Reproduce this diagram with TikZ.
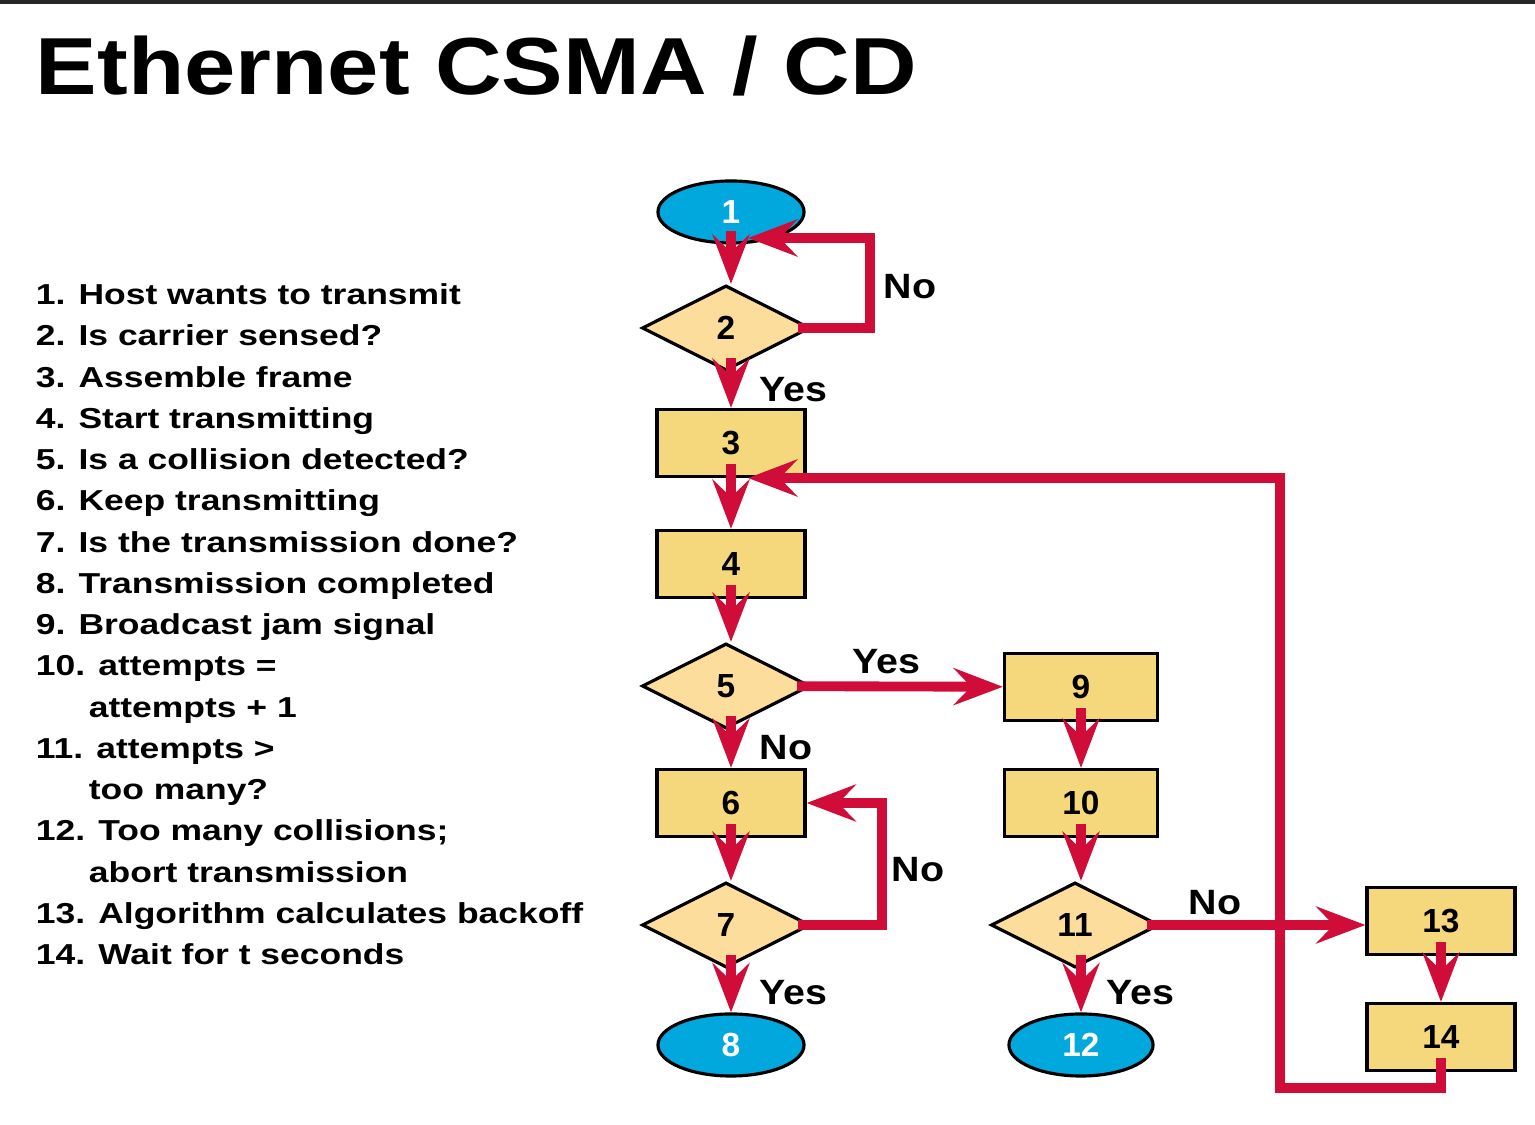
\documentclass[tikz,border=0pt]{standalone}
\usepackage{fontspec}
\setmainfont{Liberation Sans}
\usetikzlibrary{shapes.geometric}
\usetikzlibrary{arrows.meta}
\usetikzlibrary{calc}
\definecolor{csred}{RGB}{208,12,56}
\definecolor{csblue}{RGB}{0,168,222}
\definecolor{csdiam}{RGB}{253,221,156}
\definecolor{csbox}{RGB}{246,216,124}

\tikzset{
  procbox/.style={rectangle, draw=black, line width=0.9pt, fill=csbox, minimum width=1.48cm, minimum height=0.67cm, inner sep=0pt, font=\bfseries\fontsize{9.5}{10}\selectfont},
  decision/.style={diamond, draw=black, line width=0.9pt, fill=csdiam, minimum width=1.68cm, minimum height=0.85cm, inner sep=0pt, font=\bfseries\fontsize{9.5}{10}\selectfont},
  terminal/.style={ellipse, draw=black, line width=0.9pt, fill=csblue, minimum width=1.46cm, minimum height=0.62cm, inner sep=0pt, text=white, font=\bfseries\fontsize{9.5}{10}\selectfont},
  flow/.style={draw=csred, line width=2.8pt, shorten <=-4pt, -{Stealth[length=14pt,width=10.5pt,inset=5pt]}},
  answer/.style={font=\bfseries\fontsize{10}{10}\selectfont, xscale=1.12},
  legend/.style={anchor=base west, inner sep=0pt, font=\bfseries\fontsize{8.2}{9}\selectfont, xscale=1.23}
}

\begin{document}
\begin{tikzpicture}[x=0.01cm, y=-0.01cm]
  \useasboundingbox (0,0) rectangle (1535,1125);

  % top rule and title
  \fill[black!85] (0,0) rectangle (1535,4);
  \node[anchor=base west, inner sep=0pt, font=\bfseries\fontsize{23}{23}\selectfont, xscale=1.14] (title) at (35,95) {Ethernet CSMA / CD};

  % legend
  \node[legend] (l1)  at (35,305) {1. Host wants to transmit};
  \node[legend] (l2)  at (35,346) {2. Is carrier sensed?};
  \node[legend] (l3)  at (35,388) {3. Assemble frame};
  \node[legend] (l4)  at (35,429) {4. Start transmitting};
  \node[legend] (l5)  at (35,470) {5. Is a collision detected?};
  \node[legend] (l6)  at (35,511) {6. Keep transmitting};
  \node[legend] (l7)  at (35,553) {7. Is the transmission done?};
  \node[legend] (l8)  at (35,594) {8. Transmission completed};
  \node[legend] (l9)  at (35,635) {9. Broadcast jam signal};
  \node[legend] (l10) at (35,676) {10. attempts =};
  \node[legend] (l10b) at (88,718) {attempts + 1};
  \node[legend] (l11) at (35,759) {11. attempts >};
  \node[legend] (l11b) at (88,800) {too many?};
  \node[legend] (l12) at (35,841) {12. Too many collisions;};
  \node[legend] (l12b) at (88,883) {abort transmission};
  \node[legend] (l13) at (35,924) {13. Algorithm calculates backoff};
  \node[legend] (l14) at (35,965) {14. Wait for t seconds};

  % main column
  \node[terminal] (n1) at (731,212) {1};
  \node[decision] (n2) at (726,328) {2};
  \node[procbox]  (n3) at (731,443) {3};
  \node[procbox]  (n4) at (731,564) {4};
  \node[decision] (n5) at (726,686) {5};
  \node[procbox]  (n6) at (731,803) {6};
  \node[decision] (n7) at (726,925) {7};
  \node[terminal] (n8) at (731,1045) {8};

  % collision column
  \node[procbox, minimum width=1.53cm] (n9)  at (1081,687) {9};
  \node[procbox, minimum width=1.53cm] (n10) at (1081,803) {10};
  \node[decision, minimum width=1.68cm] (n11) at (1075,925) {11};
  \node[terminal, minimum width=1.44cm] (n12) at (1081,1045) {12};

  % backoff column
  \node[procbox] (n13) at (1441,921) {13};
  \node[procbox] (n14) at (1441,1037) {14};

  % loop corners
  \coordinate (n1in)   at (748,238);
  \coordinate (c2loop) at (870,238);
  \coordinate (c7loop) at ($(n6.east)+(75,0)$);
  \coordinate (c14low) at (1280,1088);
  \coordinate (n3in)   at (748,478);

  % connectors
  \draw[flow] (n1.south -| n3) -- (n2.north -| n3);
  \draw[flow] (n2.east) -| (c2loop) -- (n1in);
  \draw[flow] (n2.south -| n3) -- (n3);
  \draw[flow] (n3) -- (n4);
  \draw[flow] (n4) -- (n5.north -| n4);
  \draw[flow] (n5) -- (n9);
  \draw[flow] (n5.south -| n4) -- (n6);
  \draw[flow] (n6) -- (n7.north -| n6);
  \draw[flow] (n7.east) -| (c7loop) -- (n6.east);
  \draw[flow] (n7.south -| n6) -- (n8);
  \draw[flow] (n9) -- (n10);
  \draw[flow] (n10) -- (n11.north -| n10);
  \draw[flow] (n11.south -| n10) -- (n12);
  \draw[flow] (n11.east) -- (n11.east -| n13.west);
  \draw[flow] (n13) -- (n14);
  \draw[flow] (n14.south) |- (c14low) |- (n3in);

  % answers
  \node[answer] (a2no)   at (910,287) {No};
  \node[answer] (a2yes)  at (793,390) {Yes};
  \node[answer] (a5yes)  at (886,662) {Yes};
  \node[answer] (a5no)   at (786,748) {No};
  \node[answer] (a7no)   at (918,870) {No};
  \node[answer] (a7yes)  at (793,993) {Yes};
  \node[answer] (a11no)  at (1215,903) {No};
  \node[answer] (a11yes) at (1140,993) {Yes};

\end{tikzpicture}
\end{document}
